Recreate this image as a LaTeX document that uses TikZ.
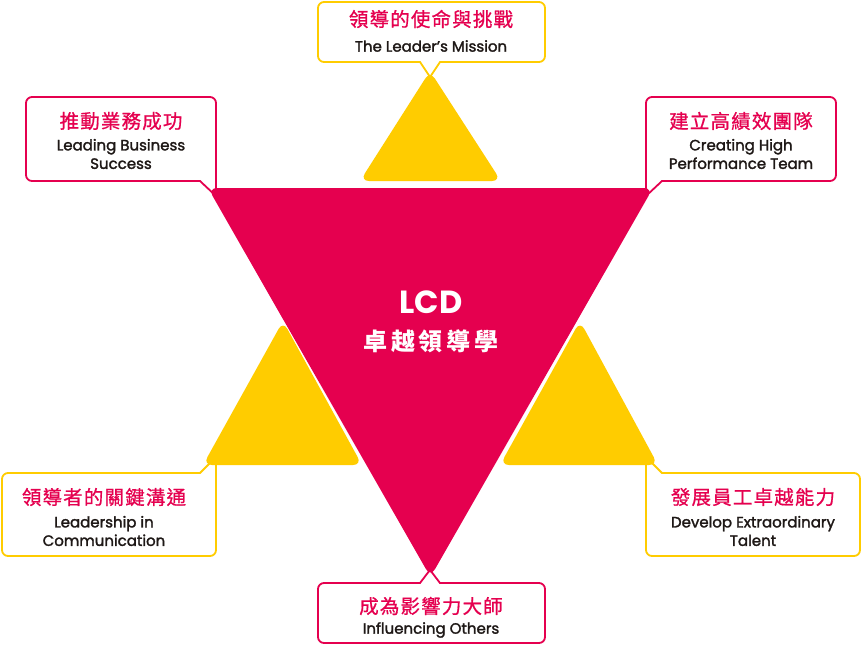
\documentclass[tikz,border=0pt]{standalone}
\usepackage{fontspec}
\newfontfamily\cjk{Noto Sans CJK TC}[FakeBold=0.8]
\newfontfamily\cjkb{Noto Sans CJK TC}
\newfontfamily\en{Poppins}[FakeBold=1.8]
\newfontfamily\enb{Poppins}
\definecolor{lcdred}{RGB}{229,0,79}
\definecolor{lcdyel}{RGB}{255,204,0}
\definecolor{ink}{RGB}{30,24,22}
\tikzset{
  boxr/.style={draw=lcdred, line width=1.8pt, rounded corners=6pt, fill=white, inner sep=0pt},
  boxy/.style={draw=lcdyel, line width=1.8pt, rounded corners=6pt, fill=white, inner sep=0pt},
  ptrr/.style={draw=lcdred, line width=1.8pt, line join=miter},
  ptry/.style={draw=lcdyel, line width=1.8pt, line join=miter},
  zh/.style={text=lcdred, font=\cjk\fontsize{19.5}{22}\selectfont\addfontfeatures{LetterSpace=6}, inner sep=0pt},
  entext/.style={text=ink, font=\en\fontsize{15}{18.5}\selectfont, align=center, inner sep=0pt},
  tri/.style={rounded corners=9pt},
}
\begin{document}
\begin{tikzpicture}[x=1pt,y=-1pt]
\path[use as bounding box, fill=white] (0,0) rectangle (862,646);

% ---- callout boxes ----
% top
\node[boxy, minimum width=227pt, minimum height=60pt] (btop) at (431.5,32) {};
\fill[white] (419,59) rectangle (441,65);
\draw[ptry] (410,62) -- (420,62) -- (430,77) -- (440,62) -- (450,62);
\node[zh] (ztop) at (431,19) {領導的使命與挑戰};
\node[entext] (etop) at (431,46) {The Leader’s Mission};

% top-left
\node[boxr, minimum width=190pt, minimum height=84pt] (btl) at (121,139) {};
\fill[white] (190,165) rectangle (219,185);
\draw[ptrr] (180,181) -- (200,181) -- (216,196) -- (216,160);
\node[zh] (ztl) at (121,121) {推動業務成功};
\node[entext] (etl) at (121,154) {Leading Business\\Success};

% top-right
\node[boxr, minimum width=190pt, minimum height=84pt] (btr) at (741,139) {};
\fill[white] (643,165) rectangle (672,185);
\draw[ptrr] (646,160) -- (646,196) -- (662,181) -- (682,181);
\node[zh] (ztr) at (741,121) {建立高績效團隊};
\node[entext] (etr) at (741,154) {Creating High\\Performance Team};

% bottom-left
\node[boxy, minimum width=214pt, minimum height=83pt] (bbl) at (109,514.5) {};
\fill[white] (190,469) rectangle (219,490);
\draw[ptry] (180,473) -- (200,473) -- (216,457) -- (216,495);
\node[zh] (zbl) at (104,497) {領導者的關鍵溝通};
\node[entext] (ebl) at (104,531) {Leadership in\\Communication};

% bottom-right
\node[boxy, minimum width=214pt, minimum height=83pt] (bbr) at (753,514.5) {};
\fill[white] (643,469) rectangle (672,490);
\draw[ptry] (646,495) -- (646,457) -- (662,473) -- (682,473);
\node[zh] (zbr) at (753,497) {發展員工卓越能力};
\node[entext] (ebr) at (753,531) {Develop Extraordinary\\Talent};

% bottom
\node[boxr, minimum width=227pt, minimum height=60pt] (bbot) at (431.5,613) {};
\fill[white] (419,580) rectangle (441,586);
\draw[ptrr] (408,583) -- (420,583) -- (436,562);
\draw[ptrr] (452,583) -- (440,583) -- (424,562);
\node[zh] (zbot) at (431,606) {成為影響力大師};
\node[entext] (ebot) at (431,630) {Influencing Others};

% ---- triangles ----
\fill[lcdyel, tri] (430,71) -- (501,181) -- (360,181) -- cycle;
\fill[lcdyel, tri] (283,321) -- (362,465) -- (203,465) -- cycle;
\fill[lcdyel, tri] (580,321) -- (658,465) -- (500,465) -- cycle;
\fill[lcdred, tri] (208,188) -- (653,188) -- (430.5,577) -- cycle;

% ---- centre ----
\node[text=white, font=\enb\bfseries\fontsize{32}{36}\selectfont, inner sep=0pt] (lcd) at (431,302) {LCD};
\node[text=white, font=\cjkb\bfseries\fontsize{24}{28}\selectfont\addfontfeatures{LetterSpace=15}, inner sep=0pt] (lcdzh) at (431,341) {卓越領導學};
\end{tikzpicture}
\end{document}
